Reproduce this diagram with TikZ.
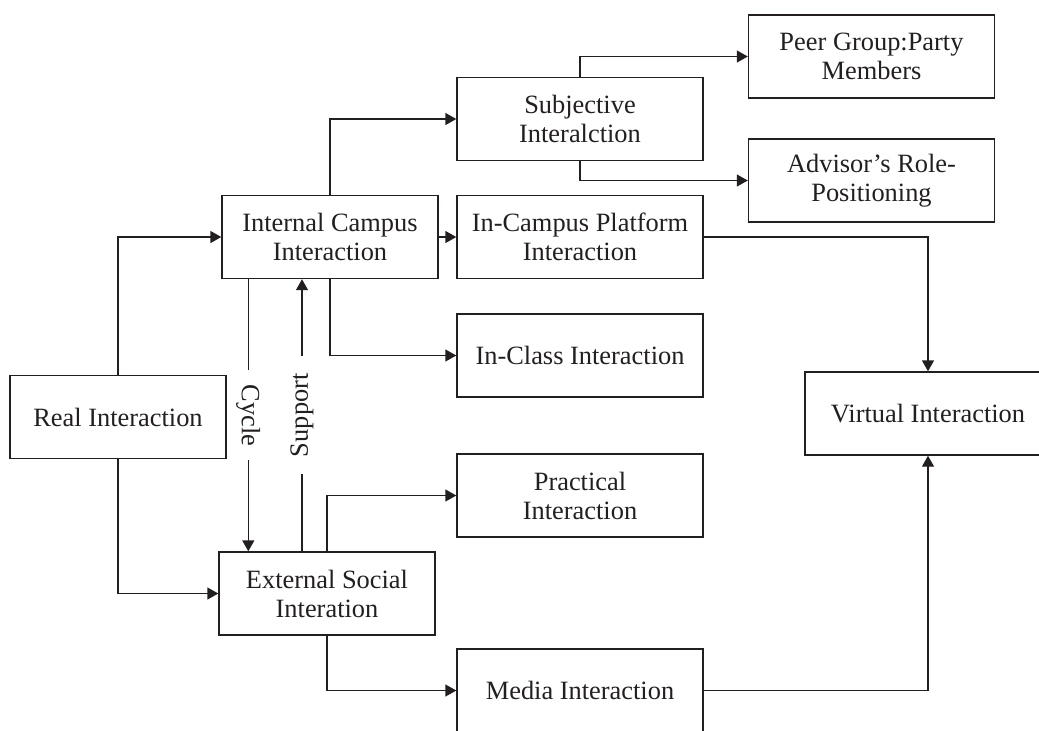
\documentclass[tikz,border=0pt]{standalone}
\usepackage{fontspec}
\setmainfont{Liberation Serif}
\usetikzlibrary{arrows.meta}
\definecolor{ink}{RGB}{35,31,32}

\begin{document}
\begin{tikzpicture}[font=\fontsize{13.2}{14.5}\selectfont, x=0.5pt, y=-0.5pt,
  color=ink, line width=0.7pt, >={Triangle[length=5.5pt,width=6pt]},
  box/.style={draw, align=center, minimum width=123pt, minimum height=41.5pt, inner sep=1pt},
  lbox/.style={box, minimum width=108pt},
  cut/.style={fill=white, inner ysep=1pt, inner xsep=7pt}]

\useasboundingbox (0,0) rectangle (1039,730);

\node[lbox] (real)     at (118,417)   {Real Interaction};
\node[lbox] (icampus)  at (330,237)   {Internal Campus\\Interaction};
\node[lbox] (esocial)  at (327,593.5) {External Social\\Interation};

\node[box] (subj)      at (580,119)   {Subjective\\Interalction};
\node[box] (platform)  at (580,237)   {In-Campus Platform\\Interaction};
\node[box] (inclass)   at (580,355.5) {In-Class Interaction};
\node[box] (practical) at (580,495.5) {Practical\\Interaction};
\node[box] (media)     at (580,690.5) {Media Interaction};

\node[box] (peer)      at (871.5,56.5)  {Peer Group:Party\\Members};
\node[box] (advisor)   at (871.5,180.5) {Advisor’s Role-\\Positioning};
\node[box] (virtual)   at (928,413.5)   {Virtual Interaction};

\foreach \from/\to in {real/icampus,real/esocial,icampus/subj,icampus/inclass,
  subj/peer,subj/advisor,esocial/practical,esocial/media}
\draw[->] (\from) |- (\to);

\draw[->] (icampus) -- (platform);
\draw[->] (platform) -| (virtual);
\draw[->] (media) -| (virtual);

\coordinate (cyc) at (248.3,0);
\coordinate (sup) at (302,0);
\draw[->] (icampus.south -| cyc) -- node[cut,rotate=-90] (cyclbl) {Cycle} (esocial.north -| cyc);
\draw[->] (esocial.north -| sup) -- node[cut,rotate=90,inner xsep=8.5pt] (suplbl) {Support} (icampus.south -| sup);

\end{tikzpicture}
\end{document}
